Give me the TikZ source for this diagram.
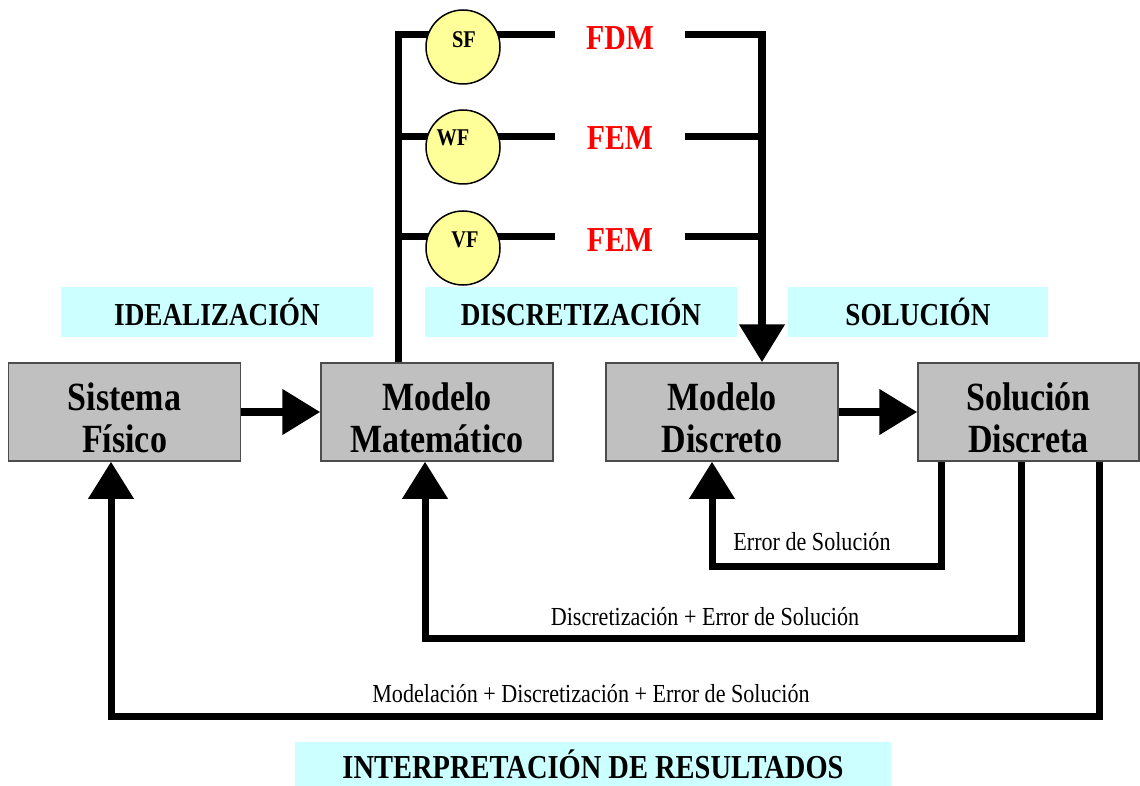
\documentclass[tikz,border=0pt]{standalone}
\usepackage{fontspec}
\setmainfont{Liberation Serif}[FakeStretch=0.85]
\usetikzlibrary{arrows.meta,calc}
\definecolor{boxgray}{HTML}{C0C0C0}
\definecolor{bandcyan}{HTML}{CCFFFF}
\definecolor{circyellow}{HTML}{FFFF99}
\begin{document}
\begin{tikzpicture}[x=1pt,y=-1pt,
  stagebox/.style={rectangle,draw=black!70,line width=1.5pt,fill=boxgray,
    minimum width=232pt,minimum height=98pt,inner sep=0pt},
  stagetxt/.style={inner sep=0pt,align=center,
    font=\bfseries\fontsize{40}{42}\selectfont},
  band/.style={rectangle,fill=bandcyan,inner sep=0pt,
    font=\bfseries\fontsize{32}{32}\selectfont},
  circ/.style={circle,draw=black,line width=1.5pt,fill=circyellow,minimum size=74pt,inner sep=0pt},
  circtxt/.style={inner sep=0pt,font=\bfseries\fontsize{24}{24}\selectfont},
  method/.style={inner sep=0pt,minimum width=130pt,text=red,
    font=\bfseries\fontsize{35}{35}\selectfont},
  errtxt/.style={inner sep=0pt,font=\fontsize{26}{26}\selectfont},
  bus/.style={line width=7pt},
  arr/.style={line width=8pt,-{Triangle[length=38pt,width=44pt]}},
  fb/.style={line width=7pt,-{Triangle[length=37pt,width=44pt]}}
]
\useasboundingbox (0,0) rectangle (1140,786);

% stage labels
\node[band,minimum width=312pt,minimum height=50pt] (bideal) at (217,312) {IDEALIZACIÓN};
\node[band,minimum width=312pt,minimum height=50pt] (bdisc) at (581,312) {DISCRETIZACIÓN};
\node[band,minimum width=260pt,minimum height=50pt] (bsol) at (918,312) {SOLUCIÓN};
\node[band,minimum width=596pt,minimum height=44pt,font=\bfseries\fontsize{33.5}{33.5}\selectfont]
  (binter) at (593,764) {INTERPRETACIÓN DE RESULTADOS};

% main blocks
\node[stagebox] (sf) at (124.5,412) {};
\node[stagebox] (mm) at (437,412) {};
\node[stagebox] (md) at (722,412) {};
\node[stagebox,minimum width=221pt] (sd) at (1028.5,412) {};
\node[stagetxt] (sft) at ($(sf)+(0,6)$) {Sistema\\Físico};
\node[stagetxt] (mmt) at ($(mm)+(0,6)$) {Modelo\\Matemático};
\node[stagetxt] (mdt) at ($(md)+(0,6)$) {Modelo\\Discreto};
\node[stagetxt] (sdt) at ($(sd)+(0,6)$) {Solución\\Discreta};

% formulation methods
\node[method] (m1) at (620,38) {FDM};
\node[method] (m2) at (620,138) {FEM};
\node[method] (m3) at (620,240) {FEM};

\coordinate (lx) at (398,35);
\coordinate (rx) at (762,35);
\coordinate (l2) at (398,137);
\coordinate (l3) at (398,237);
\coordinate (r2) at (762,137);
\coordinate (r3) at (762,237);

% left bus from the mathematical model
\draw[bus] (lx |- mm.north) -- (lx) -- (lx -| m1.west);
\draw[bus] (l2) -- (l2 -| m2.west);
\draw[bus] (l3) -- (l3 -| m3.west);
% right bus into the discrete model
\draw[bus] (rx -| m1.east) -- (rx);
\draw[bus] (r2 -| m2.east) -- (r2);
\draw[bus] (r3 -| m3.east) -- (r3);
\draw[arr] ($(rx)+(0,-3.5)$) -- (rx |- md.north);

% formulation circles
\node[circ] (csf) at (463,47) {};
\node[circ] (cwf) at (463,147) {};
\node[circ] (cvf) at (463,248) {};
\node[circtxt] (tsf) at (464,40) {SF};
\node[circtxt] (twf) at (453,138) {WF};
\node[circtxt] (tvf) at (465,240) {VF};

% forward arrows
\draw[arr] (sf.east) -- (mm.west);
\draw[arr] (md.east) -- (sd.west);

% feedback loops
\coordinate (e1) at (941,566);
\coordinate (e2) at (1021,638);
\coordinate (e3) at (1099,716);
\coordinate (a1) at (712,566);
\coordinate (a2) at (425,638);
\coordinate (a3) at (111,716);
\draw[fb] (e1 |- sd.south) -- (e1) -- (a1) -- (a1 |- md.south);
\draw[fb] (e2 |- sd.south) -- (e2) -- (a2) -- (a2 |- mm.south);
\draw[fb] (e3 |- sd.south) -- (e3) -- (a3) -- (a3 |- sf.south);

\node[errtxt] (t1) at (812,542) {Error de Solución};
\node[errtxt] (t2) at (705,617) {Discretización + Error de Solución};
\node[errtxt] (t3) at (591,694) {Modelación + Discretización + Error de Solución};
\end{tikzpicture}
\end{document}
